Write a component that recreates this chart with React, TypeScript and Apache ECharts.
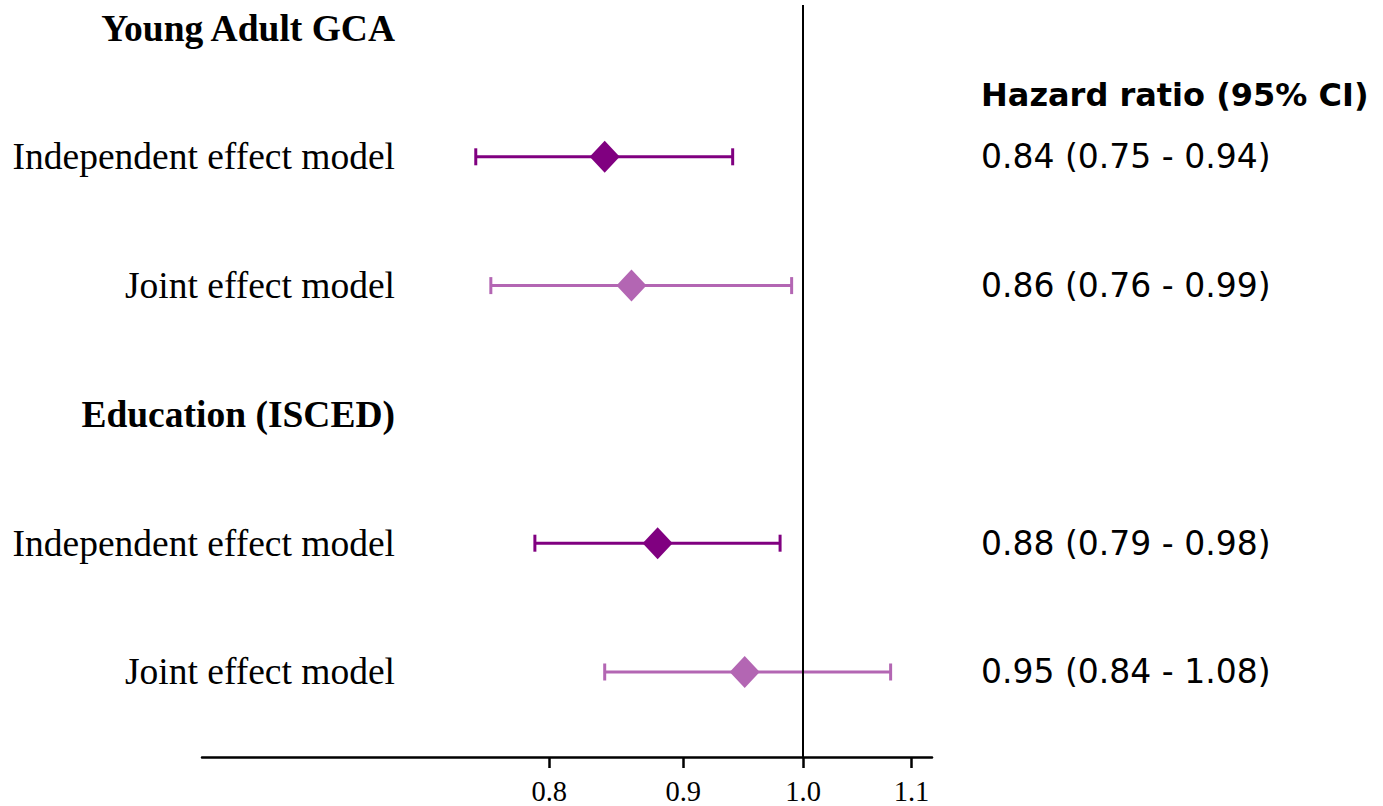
import React, { useEffect, useRef } from "react";
import * as echarts from "echarts";

const rowLabels = [
  "Young Adult GCA",
  "Independent effect model",
  "Joint effect model",
  "Education (ISCED)",
  "Independent effect model",
  "Joint effect model",
];
const headerRows = [0, 3];
const estimateRows = [1, 2, 4, 5];
const hazardRatio = [0.84, 0.86, 0.88, 0.95];
const ciLow = [0.75, 0.76, 0.79, 0.84];
const ciHigh = [0.94, 0.99, 0.98, 1.08];
const modelType = ["independent", "joint", "independent", "joint"];
const xTicks = [0.8, 0.9, 1.0, 1.1];
const rightHeader = "Hazard ratio (95% CI)";
const rightHeaderRow = 0.52;

const xMin = 0.5896;
const xMax = 1.12;
const yMin = -0.1786;
const yMax = 5.66;

const colors: Record<string, string> = {
  independent: "#800080",
  joint: "#b366b3",
};

const fmt = (v: number) => v.toFixed(2);

export default function App() {
  const ref = useRef<HTMLDivElement>(null);
  useEffect(() => {
    document.body.style.margin = "0";
    const chart = echarts.init(ref.current!, null, { renderer: "svg" });

    const barData = estimateRows.map((row, i) => [
      Math.log(ciLow[i]),
      Math.log(ciHigh[i]),
      row,
      i,
    ]);
    const pointSeries = ["independent", "joint"].map((m) => ({
      type: "scatter",
      name: m,
      symbol: "diamond",
      symbolSize: [30, 32],
      itemStyle: { color: colors[m], opacity: 1 },
      z: 5,
      data: estimateRows
        .map((row, i) => ({ row, i }))
        .filter(({ i }) => modelType[i] === m)
        .map(({ row, i }) => [Math.log(hazardRatio[i]), row]),
    }));

    const rightLabels: Record<string, string> = {};
    rightLabels[String(rightHeaderRow)] = "{h|" + rightHeader + "}";
    estimateRows.forEach((row, i) => {
      rightLabels[String(row)] =
        "{v|" + `${fmt(hazardRatio[i])} (${fmt(ciLow[i])} - ${fmt(ciHigh[i])})` + "}";
    });

    chart.setOption({
      animation: false,
      grid: { left: 202, right: 1383 - 932, top: 5, bottom: 49, containLabel: false },
      xAxis: {
        type: "value",
        min: Math.log(xMin),
        max: Math.log(xMax),
        axisLine: { show: true, onZero: false, lineStyle: { color: "#000", width: 2.5 } },
        axisTick: {
          show: true,
          length: 11,
          lineStyle: { color: "#000", width: 2.5 },
          customValues: xTicks.map((t) => Math.log(t)),
        },
        axisLabel: {
          customValues: xTicks.map((t) => Math.log(t)),
          formatter: (v: number) => Math.exp(v).toFixed(1),
          fontFamily: "Liberation Serif",
          fontSize: 28.5,
          color: "#000",
          margin: 20,
        },
        splitLine: { show: false },
      },
      yAxis: [
        {
          type: "value",
          inverse: true,
          min: yMin,
          max: yMax,
          position: "left",
          offset: -201,
          axisLine: { show: false },
          axisTick: { show: false },
          splitLine: { show: false },
          axisLabel: {
            customValues: rowLabels.map((_, i) => i),
            margin: 8,
            formatter: (v: number) => {
              const idx = Math.round(v);
              const t = rowLabels[idx] ?? "";
              return headerRows.includes(idx) ? "{b|" + t + "}" : "{n|" + t + "}";
            },
            rich: {
              b: { fontFamily: "Liberation Serif", fontWeight: "bold", fontSize: 37.5, color: "#000" },
              n: { fontFamily: "Liberation Serif", fontSize: 37.5, color: "#000" },
            },
          },
        },
        {
          type: "value",
          inverse: true,
          min: yMin,
          max: yMax,
          position: "right",
          axisLine: { show: false },
          axisTick: { show: false },
          splitLine: { show: false },
          axisLabel: {
            customValues: [rightHeaderRow, ...estimateRows],
            margin: 49,
            align: "left",
            formatter: (v: number) => {
              const key = Object.keys(rightLabels).find((k) => Math.abs(Number(k) - v) < 1e-6);
              return key ? rightLabels[key] : "";
            },
            rich: {
              h: { fontFamily: "DejaVu Sans", fontWeight: "bold", fontSize: 32, color: "#000" },
              v: { fontFamily: "DejaVu Sans", fontSize: 33, color: "#000" },
            },
          },
        },
      ],
      series: [
        {
          type: "custom",
          name: "ci",
          z: 2,
          encode: { x: [0, 1], y: 2 },
          data: barData,
          renderItem: (params: any, api: any) => {
            const lo = api.coord([api.value(0), api.value(2)]);
            const hi = api.coord([api.value(1), api.value(2)]);
            const idx = api.value(3);
            const c = colors[modelType[idx]];
            const cap = 8.5;
            const style = { stroke: c, lineWidth: 3 };
            return {
              type: "group",
              children: [
                { type: "line", shape: { x1: lo[0], y1: lo[1], x2: hi[0], y2: hi[1] }, style },
                { type: "line", shape: { x1: lo[0], y1: lo[1] - cap, x2: lo[0], y2: lo[1] + cap }, style },
                { type: "line", shape: { x1: hi[0], y1: hi[1] - cap, x2: hi[0], y2: hi[1] + cap }, style },
              ],
            };
          },
          markLine: {
            silent: true,
            symbol: "none",
            label: { show: false },
            lineStyle: { color: "#000", width: 2, type: "solid" },
            data: [{ xAxis: 0 }],
          },
        },
        ...pointSeries,
      ],
    });
    return () => chart.dispose();
  }, []);
  return (
    <div
      ref={ref}
      style={{ position: "fixed", left: 0, top: 0, width: 1383, height: 806, background: "#fff" }}
    />
  );
}
